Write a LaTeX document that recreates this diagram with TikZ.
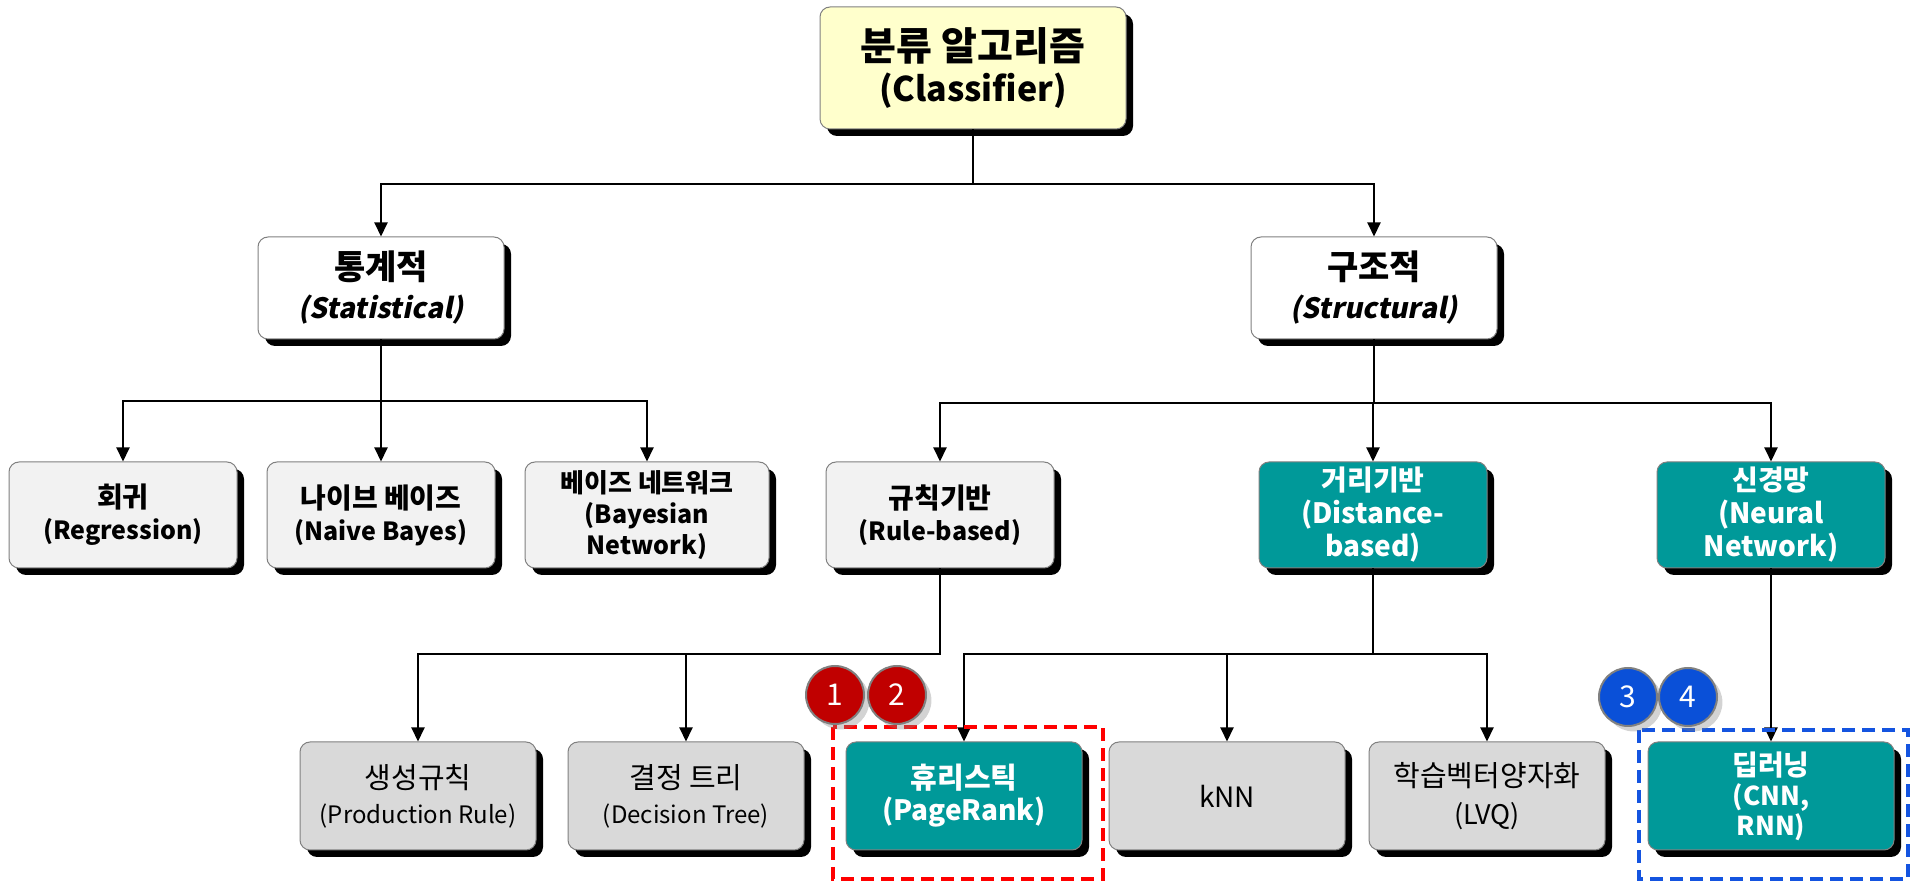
\documentclass[tikz,border=0pt]{standalone}
\usepackage{fontspec}
\setmainfont{Noto Sans CJK KR}
\newfontfamily\slantfont{Noto Sans CJK KR}[FakeSlant=0.2]
\usetikzlibrary{arrows.meta,shadows}

\definecolor{rootyellow}{RGB}{255,255,204}
\definecolor{lightgray}{RGB}{242,242,242}
\definecolor{midgray}{RGB}{217,217,217}
\definecolor{teal}{RGB}{0,153,153}
\definecolor{badgered}{RGB}{192,0,0}
\definecolor{badgeblue}{RGB}{10,80,216}
\definecolor{frameblue}{RGB}{20,84,224}

% korean heading line, size set by the box style
\newcommand{\kosize}{14}
\newcommand{\ko}[1]{{\fontsize{\kosize}{0}\selectfont #1}}

\tikzset{
  box/.style={draw=black!50, line width=0.5pt, rounded corners=5pt, align=center,
    inner sep=2pt, drop shadow={shadow xshift=3.5pt, shadow yshift=-3.5pt, fill=black, opacity=1}},
  rootbox/.style={box, fill=rootyellow, minimum width=153pt, minimum height=61pt,
    font=\bfseries\fontsize{17}{20.5}\selectfont\renewcommand{\kosize}{19.5}},
  groupbox/.style={box, fill=white, minimum width=123pt, minimum height=51pt,
    font=\bfseries\fontsize{14}{19.5}\selectfont\renewcommand{\kosize}{17}},
  methodbox/.style={box, fill=lightgray, minimum width=114pt, minimum height=53pt,
    font=\bfseries\fontsize{12.5}{16}\selectfont\renewcommand{\kosize}{14}},
  leafbox/.style={box, fill=midgray, minimum width=118pt, minimum height=54pt,
    font=\fontsize{12}{17.5}\selectfont\renewcommand{\kosize}{14.5}},
  hot/.style={fill=teal, text=white},
  arr/.style={-{Triangle[length=7pt,width=6.5pt]}, line width=1pt},
  badge/.style={circle, draw=black!50, line width=1pt, minimum size=29pt, inner sep=0pt,
    text=white, font=\fontsize{15}{15}\selectfont, drop shadow={opacity=0.35}},
  frame/.style={dash pattern=on 6.5pt off 3.5pt, line width=1.6pt}
}

\begin{document}
\begin{tikzpicture}[x=0.5pt,y=0.5pt]
\useasboundingbox (0,0) rectangle (1919,-881);

% top
\node[rootbox] (root) at (973,-68) {\ko{분류 알고리즘}\\(Classifier)};

% groups
\node[groupbox] (stat) at (381,-288) {\ko{통계적}\\{\slantfont (Statistical)}};
\node[groupbox] (struc) at (1374,-288) {\ko{구조적}\\{\slantfont (Structural)}};

% methods
\node[methodbox] (reg) at (123,-515) {\ko{회귀}\\(Regression)};
\node[methodbox] (nb) at (381,-515) {\ko{나이브 베이즈}\\(Naive Bayes)};
\node[methodbox, minimum width=122pt, font=\bfseries\fontsize{12.5}{15.5}\selectfont\renewcommand{\kosize}{13}]
  (bn) at (647,-515) {\ko{베이즈 네트워크}\\(Bayesian\\Network)};
\node[methodbox] (rule) at (940,-515) {\ko{규칙기반}\\(Rule-based)};
\node[methodbox, hot, font=\bfseries\fontsize{14}{16.5}\selectfont\renewcommand{\kosize}{14}]
  (dist) at (1373,-515) {\ko{거리기반}\\(Distance-\\based)};
\node[methodbox, hot, font=\bfseries\fontsize{14}{16.5}\selectfont\renewcommand{\kosize}{14}]
  (neur) at (1771,-515) {\ko{신경망}\\(Neural\\Network)};

% leaves
\node[leafbox] (prod) at (418,-796) {\ko{생성규칙}\\(Production Rule)};
\node[leafbox] (dtree) at (686,-796) {\ko{결정 트리}\\(Decision Tree)};
\node[leafbox, hot, font=\bfseries\fontsize{14}{16}\selectfont\renewcommand{\kosize}{14.5}]
  (heur) at (964,-796) {\ko{휴리스틱}\\(PageRank)};
\node[leafbox, font=\fontsize{14}{17.5}\selectfont] (knn) at (1227,-796) {kNN};
\node[leafbox, font=\fontsize{13.5}{19}\selectfont\renewcommand{\kosize}{14.5}]
  (lvq) at (1487,-796) {\ko{학습벡터양자화}\\(LVQ)};
\node[leafbox, hot, minimum width=123pt, font=\bfseries\fontsize{13}{15}\selectfont\renewcommand{\kosize}{14}]
  (deep) at (1771,-796) {\ko{딥러닝}\\(CNN,\\RNN)};

% connectors
\draw[arr] (root.south) -- ++(0,-55) -| (stat.north);
\draw[arr] (root.south) -- ++(0,-55) -| (struc.north);
\draw[arr] (stat.south) -- ++(0,-62) -| (reg.north);
\draw[arr] (stat.south) -- ++(0,-62) -| (nb.north);
\draw[arr] (stat.south) -- ++(0,-62) -| (bn.north);
\draw[arr] (struc.south) -- ++(0,-64) -| (rule.north);
\draw[arr] (struc.south) -- ++(0,-64) -| (dist.north);
\draw[arr] (struc.south) -- ++(0,-64) -| (neur.north);
\draw[arr] (rule.south) -- ++(0,-86) -| (prod.north);
\draw[arr] (rule.south) -- ++(0,-86) -| (dtree.north);
\draw[arr] (dist.south) -- ++(0,-86) -| (heur.north);
\draw[arr] (dist.south) -- ++(0,-86) -| (knn.north);
\draw[arr] (dist.south) -- ++(0,-86) -| (lvq.north);
\draw[arr] (neur.south) -- (deep.north);

% highlight frames
\draw[frame, draw=red] (833,-727) rectangle (1103,-879);
\draw[frame, draw=frameblue] (1639,-730) rectangle (1908,-879);

\node[badge, fill=badgered] (b1) at (835,-695) {1};
\node[badge, fill=badgered] (b2) at (897,-695) {2};
\node[badge, fill=badgeblue] (b3) at (1628,-697) {3};
\node[badge, fill=badgeblue] (b4) at (1688,-697) {4};
\end{tikzpicture}
\end{document}
